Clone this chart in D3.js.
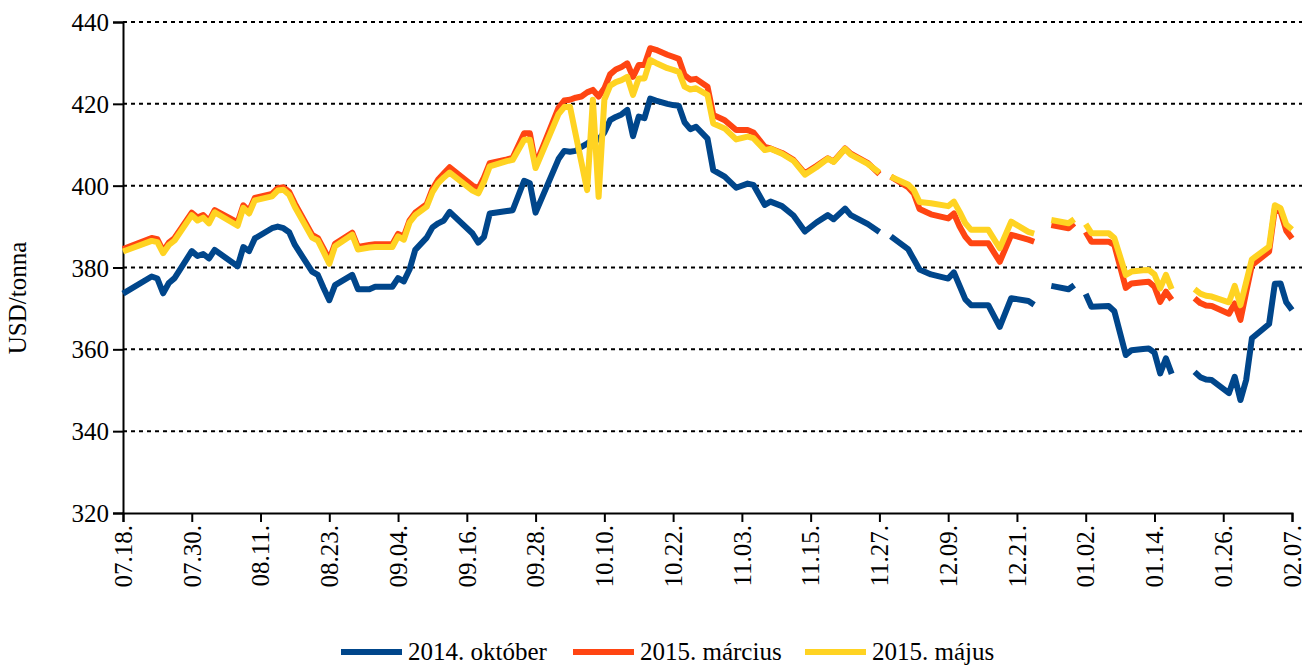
<!DOCTYPE html>
<html>
<head>
<meta charset="utf-8">
<script src="https://cdn.jsdelivr.net/npm/d3@7"></script>
<style>
  body { margin: 0; background: #fff; }
  svg text { font-family: "Liberation Serif", "Times New Roman", serif; fill: #000; }
</style>
</head>
<body>
<svg width="1314" height="666"></svg>
<script>
// dates of the plotted points (null values = breaks in the lines)
const dates = [
  "2014-07-18","2014-07-23","2014-07-24","2014-07-25","2014-07-26","2014-07-27","2014-07-30","2014-07-31",
  "2014-08-01","2014-08-02","2014-08-03","2014-08-07","2014-08-08","2014-08-09","2014-08-10","2014-08-13",
  "2014-08-14","2014-08-15","2014-08-16","2014-08-17","2014-08-20","2014-08-21","2014-08-22","2014-08-23",
  "2014-08-24","2014-08-27","2014-08-28","2014-08-30","2014-08-31","2014-09-03","2014-09-04","2014-09-05",
  "2014-09-06","2014-09-07","2014-09-09","2014-09-10","2014-09-11","2014-09-12","2014-09-13","2014-09-17",
  "2014-09-18","2014-09-19","2014-09-20","2014-09-23","2014-09-24","2014-09-26","2014-09-27","2014-09-28",
  "2014-10-02","2014-10-03","2014-10-04","2014-10-05","2014-10-06","2014-10-07","2014-10-08","2014-10-09",
  "2014-10-10","2014-10-11","2014-10-12","2014-10-13","2014-10-14","2014-10-15","2014-10-16","2014-10-17",
  "2014-10-18","2014-10-19","2014-10-21","2014-10-22","2014-10-23","2014-10-24","2014-10-25","2014-10-26",
  "2014-10-28","2014-10-29","2014-10-31","2014-11-02","2014-11-04","2014-11-05","2014-11-07","2014-11-08",
  "2014-11-10","2014-11-12","2014-11-14","2014-11-16","2014-11-18","2014-11-19","2014-11-21","2014-11-22",
  "2014-11-25","2014-11-27","2014-11-28","2014-11-29","2014-12-02","2014-12-03","2014-12-04","2014-12-06",
  "2014-12-09","2014-12-10","2014-12-11","2014-12-12","2014-12-13","2014-12-16","2014-12-18","2014-12-20",
  "2014-12-23","2014-12-24","2014-12-25","2014-12-26","2014-12-27","2014-12-30","2014-12-31","2015-01-01",
  "2015-01-02","2015-01-03","2015-01-06","2015-01-07","2015-01-09","2015-01-10","2015-01-12","2015-01-13",
  "2015-01-14","2015-01-15","2015-01-16","2015-01-17","2015-01-18","2015-01-21","2015-01-22","2015-01-23",
  "2015-01-24","2015-01-27","2015-01-28","2015-01-29","2015-01-30","2015-01-31","2015-02-03","2015-02-04",
  "2015-02-05","2015-02-06","2015-02-07"
];

// 2014. október
const oct14 = [
  373.6,377.8,377.3,373.7,376.2,377.4,384.0,382.8,
  383.3,382.2,384.3,380.3,385.0,384.0,387.1,389.6,
  390.0,389.6,388.6,385.5,379.0,378.2,375.0,372.0,
  375.7,378.2,374.7,374.7,375.3,375.3,377.4,376.6,
  379.5,384.3,387.3,389.8,390.8,391.5,393.6,388.3,
  386.1,387.5,393.2,393.8,394.0,401.2,400.6,393.4,
  406.5,408.5,408.3,408.5,409.5,410.3,411.2,411.3,
  413.0,416.0,416.8,417.4,418.5,412.1,416.9,416.5,
  421.3,420.8,420.0,419.7,419.5,415.5,413.8,414.4,
  411.5,403.8,402.2,399.5,400.5,400.2,395.3,396.1,
  395.0,392.7,388.8,391.0,392.8,391.8,394.4,392.8,
  390.6,388.7,null,387.6,384.5,382.0,379.5,378.3,
  377.3,378.8,375.5,372.2,370.8,370.8,365.5,372.5,
  371.8,370.9,null,null,375.5,374.7,375.7,null,
  373.5,370.4,370.6,369.3,358.6,359.8,360.1,360.2,
  359.2,354.1,357.8,354.0,null,354.5,353.2,352.6,
  352.5,349.3,353.3,347.6,352.5,362.7,366.2,376.0,
  376.1,371.5,369.6
];

// 2015. március
const mar15 = [
  384.5,387.2,386.9,384.0,386.1,387.2,393.4,392.2,
  392.8,391.4,394.0,391.0,395.2,393.8,397.0,398.0,
  399.4,399.6,398.5,395.6,388.0,387.2,384.6,381.9,
  385.8,388.5,385.0,385.5,385.7,385.7,388.2,387.6,
  391.5,393.4,395.5,399.2,401.5,403.0,404.5,400.0,
  399.3,402.0,405.5,406.4,406.8,412.8,412.8,405.1,
  419.0,420.8,421.0,421.5,421.8,422.8,423.4,421.8,
  423.8,427.2,428.4,429.0,429.9,426.6,429.5,429.5,
  433.6,433.2,432.0,431.5,431.0,427.0,425.9,426.1,
  424.2,417.3,416.0,413.6,413.6,413.0,409.5,409.1,
  408.0,406.3,403.0,404.8,406.7,405.9,409.1,407.8,
  405.5,402.8,null,402.2,399.6,398.1,394.3,393.0,
  392.0,393.2,390.0,387.5,385.9,385.9,381.4,388.0,
  386.8,386.3,null,null,390.4,389.6,390.8,null,
  388.7,386.3,386.3,385.5,375.0,376.1,376.4,376.5,
  375.3,371.6,374.1,372.1,null,372.5,371.3,370.7,
  370.6,368.7,371.2,367.2,374.0,380.6,383.9,394.3,
  393.7,389.0,387.1
];

// 2015. május
const may15 = [
  383.9,386.5,386.2,383.5,385.5,386.6,392.8,391.5,
  392.2,390.8,393.5,390.2,394.6,393.2,396.4,397.4,
  398.8,399.0,397.8,394.8,387.3,386.6,383.8,380.9,
  385.2,388.0,384.4,384.9,385.0,385.0,387.6,386.8,
  391.0,392.8,394.9,398.4,400.6,402.0,403.2,398.8,
  398.1,401.0,404.7,406.0,406.3,411.2,411.2,404.3,
  417.5,419.2,419.3,412.5,405.7,398.9,421.0,397.3,
  421.0,424.4,425.3,425.8,426.6,422.2,426.2,426.2,
  430.7,430.0,428.7,428.3,427.8,424.2,423.5,423.8,
  422.2,415.2,414.0,411.3,412.0,411.6,408.7,409.0,
  407.8,406.1,402.7,404.5,406.6,405.8,409.0,407.6,
  405.3,403.2,null,402.2,400.3,398.9,396.0,395.7,
  395.0,396.1,393.6,390.8,389.2,389.2,384.7,391.2,
  388.7,388.3,null,null,391.6,390.8,391.8,null,
  390.6,388.4,388.4,387.2,378.2,379.0,379.3,379.4,
  378.3,374.9,378.2,374.7,null,374.7,373.6,373.1,
  372.9,371.5,375.5,370.8,376.4,382.0,385.1,395.2,
  394.5,390.5,389.3
];

const seriesNames = ["2014. október", "2015. március", "2015. május"];
const seriesColors = ["#00468b", "#ff4512", "#ffd322"];
const yTicks = [320, 340, 360, 380, 400, 420, 440];
const tickDates = ["2014-07-18","2014-07-30","2014-08-11","2014-08-23","2014-09-04","2014-09-16",
  "2014-09-28","2014-10-10","2014-10-22","2014-11-03","2014-11-15","2014-11-27","2014-12-09",
  "2014-12-21","2015-01-02","2015-01-14","2015-01-26","2015-02-07"];

const parse = d3.timeParse("%Y-%m-%d");
const fmt = d3.timeFormat("%m.%d.");

const margin = { left: 123, right: 1292, top: 22, bottom: 513 };
const fontSize = "25px";

const svg = d3.select("svg");

const x = d3.scaleTime()
  .domain([parse("2014-07-18"), parse("2015-02-07")])
  .range([margin.left, margin.right]);
const y = d3.scaleLinear()
  .domain([320, 440])
  .range([margin.bottom, margin.top]);

// dotted grid
svg.append("g")
  .selectAll("line")
  .data(yTicks.filter(d => d > 320))
  .join("line")
  .attr("x1", margin.left)
  .attr("x2", 1302)
  .attr("y1", d => y(d))
  .attr("y2", d => y(d))
  .attr("stroke", "#000")
  .attr("stroke-width", 2)
  .attr("stroke-dasharray", "4,4");

// y axis
const yAxis = svg.append("g")
  .attr("transform", `translate(${margin.left},0)`)
  .call(d3.axisLeft(y).tickValues(yTicks).tickSize(10).tickPadding(4));
yAxis.attr("font-family", null).attr("font-size", null);
yAxis.select(".domain").attr("stroke-width", 2);
yAxis.selectAll(".tick line").attr("stroke-width", 2);
yAxis.selectAll("text")
  .attr("dy", "0.34em")
  .style("font-size", fontSize);

svg.append("text")
  .attr("transform", "translate(26,298) rotate(-90)")
  .attr("text-anchor", "middle")
  .style("font-size", fontSize)
  .text("USD/tonna");

// x axis
const xAxis = svg.append("g")
  .attr("transform", `translate(0,${margin.bottom})`)
  .call(d3.axisBottom(x).tickValues(tickDates.map(parse)).tickFormat(fmt).tickSize(9).tickPadding(4));
xAxis.attr("font-family", null).attr("font-size", null);
xAxis.select(".domain").attr("stroke-width", 2);
xAxis.selectAll(".tick line").attr("stroke-width", 2);
xAxis.selectAll("text")
  .attr("transform", "rotate(-90)")
  .attr("x", -12)
  .attr("y", 0)
  .attr("dy", "0.33em")
  .attr("text-anchor", "end")
  .style("font-size", fontSize);

// lines
const allSeries = [oct14, mar15, may15];
const rows = dates.map((d, i) => ({ date: parse(d), vals: allSeries.map(s => s[i]) }));

allSeries.forEach((s, k) => {
  const line = d3.line()
    .defined(r => r.vals[k] !== null)
    .x(r => x(r.date))
    .y(r => y(r.vals[k]));
  svg.append("path")
    .datum(rows)
    .attr("fill", "none")
    .attr("stroke", seriesColors[k])
    .attr("stroke-width", 6)
    .attr("stroke-linejoin", "round")
    .attr("d", line);
});

// legend
const legendX = [341, 573, 805];
const legend = svg.append("g");
seriesNames.forEach((name, k) => {
  legend.append("line")
    .attr("x1", legendX[k]).attr("x2", legendX[k] + 61)
    .attr("y1", 652).attr("y2", 652)
    .attr("stroke", seriesColors[k])
    .attr("stroke-width", 6);
  legend.append("text")
    .attr("x", legendX[k] + 67)
    .attr("y", 660)
    .style("font-size", fontSize)
    .text(name);
});
</script>
</body>
</html>
